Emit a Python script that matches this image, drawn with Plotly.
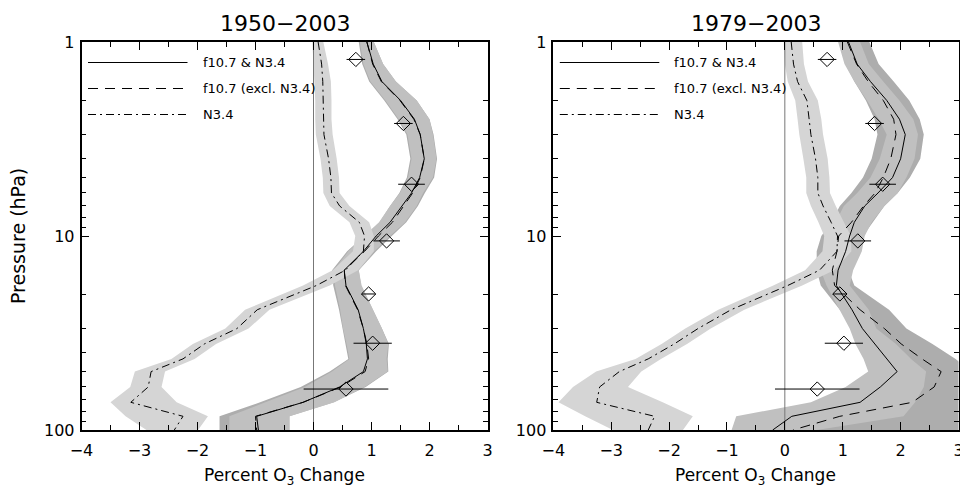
import plotly.graph_objects as go

# ---------------- data ----------------
P = [1, 1.3, 1.6, 2, 2.5, 3, 4, 5, 6, 7, 8.5, 10, 12, 15, 18, 24, 30, 36, 43, 50, 60, 72, 85, 100]

# 1950-2003
L_both    = [0.92, 1.03, 1.18, 1.50, 1.74, 1.84, 1.91, 1.83, 1.69, 1.53, 1.32, 1.08, 0.86, 0.53, 0.56, 0.77, 0.86, 0.91, 0.93, 0.86, 0.45, -0.18, -0.98, -0.95]
L_both_lo = [0.80, 0.86, 0.98, 1.24, 1.47, 1.62, 1.69, 1.63, 1.49, 1.32, 1.13, 0.88, 0.60, 0.35, 0.37, 0.46, 0.51, 0.57, 0.62, 0.32, -0.15, -0.83, -1.45, -1.45]
L_both_hi = [1.04, 1.20, 1.42, 1.78, 2.00, 2.06, 2.12, 2.06, 1.89, 1.78, 1.58, 1.32, 1.05, 0.78, 0.83, 1.03, 1.18, 1.29, 1.26, 1.28, 0.88, 0.36, -0.41, -0.41]
L_f107    = [0.92, 1.02, 1.17, 1.49, 1.73, 1.84, 1.91, 1.84, 1.71, 1.56, 1.36, 1.12, 0.88, 0.53, 0.55, 0.76, 0.86, 0.92, 0.95, 0.89, 0.47, -0.18, -1.00, -0.98]
L_f107_lo = [0.78, 0.84, 0.96, 1.22, 1.45, 1.60, 1.67, 1.61, 1.48, 1.32, 1.14, 0.88, 0.58, 0.32, 0.34, 0.44, 0.50, 0.56, 0.60, 0.28, -0.22, -0.92, -1.62, -1.62]
L_f107_hi = [1.04, 1.20, 1.42, 1.78, 2.00, 2.07, 2.13, 2.08, 1.92, 1.80, 1.60, 1.35, 1.08, 0.78, 0.82, 1.02, 1.18, 1.30, 1.28, 1.29, 0.90, 0.35, -0.42, -0.42]
L_n34     = [0.08, 0.14, 0.16, 0.17, 0.17, 0.18, 0.26, 0.30, 0.31, 0.45, 0.79, 0.88, 0.86, 0.55, 0.05, -0.97, -1.32, -1.88, -2.25, -2.80, -2.85, -3.15, -2.25, -2.40]
L_n34_lo  = [-0.02, 0.00, 0.02, 0.03, 0.03, 0.04, 0.12, 0.16, 0.17, 0.28, 0.62, 0.72, 0.68, 0.33, -0.18, -1.18, -1.52, -2.08, -2.45, -3.08, -3.16, -3.50, -3.24, -2.88]
L_n34_hi  = [0.17, 0.25, 0.30, 0.31, 0.31, 0.33, 0.40, 0.44, 0.45, 0.62, 0.96, 1.04, 1.04, 0.77, 0.28, -0.76, -1.12, -1.68, -2.05, -2.56, -2.62, -2.36, -1.82, -1.99]

# 1979-2003
R_both    = [1.10, 1.25, 1.48, 1.76, 1.98, 2.08, 2.00, 1.86, 1.61, 1.38, 1.20, 1.12, 1.05, 0.92, 0.89, 1.16, 1.34, 1.55, 1.75, 1.94, 1.65, 1.30, 0.12, -0.21]
R_both_lo = [0.92, 1.03, 1.20, 1.42, 1.62, 1.76, 1.64, 1.48, 1.25, 1.02, 0.88, 0.82, 0.72, 0.62, 0.72, 0.95, 1.12, 1.22, 1.36, 1.44, 1.05, 0.45, -0.84, -0.92]
R_both_hi = [1.30, 1.45, 1.70, 1.98, 2.22, 2.30, 2.24, 2.10, 1.95, 1.72, 1.50, 1.38, 1.33, 1.18, 1.12, 1.45, 1.58, 1.92, 2.18, 2.44, 2.40, 2.25, 2.05, 0.55]
R_f107    = [1.08, 1.24, 1.44, 1.70, 1.88, 1.92, 1.83, 1.70, 1.56, 1.36, 1.15, 0.93, 0.90, 0.82, 0.86, 1.30, 1.72, 2.01, 2.37, 2.70, 2.58, 2.20, 0.95, 0.14]
R_f107_lo = [0.95, 1.05, 1.20, 1.40, 1.55, 1.60, 1.50, 1.35, 1.15, 0.95, 0.80, 0.63, 0.55, 0.55, 0.62, 0.95, 1.30, 1.60, 1.90, 2.20, 2.05, 1.60, 0.50, 0.30]
R_f107_hi = [1.46, 1.62, 1.88, 2.15, 2.33, 2.40, 2.34, 2.16, 1.95, 1.72, 1.52, 1.35, 1.30, 1.10, 1.20, 1.80, 2.10, 2.55, 2.95, 3.20, 3.20, 3.20, 3.20, 3.20]
R_n34     = [0.11, 0.15, 0.22, 0.38, 0.42, 0.45, 0.53, 0.57, 0.57, 0.66, 0.80, 0.91, 0.90, 0.60, 0.05, -0.93, -1.50, -1.91, -2.36, -2.86, -3.20, -3.25, -2.25, -2.36]
R_n34_lo  = [-0.02, 0.00, 0.05, 0.18, 0.22, 0.25, 0.32, 0.37, 0.37, 0.45, 0.58, 0.68, 0.65, 0.35, -0.20, -1.15, -1.72, -2.13, -2.58, -3.26, -3.66, -3.91, -3.45, -2.97]
R_n34_hi  = [0.30, 0.33, 0.40, 0.57, 0.63, 0.66, 0.74, 0.77, 0.78, 0.88, 1.02, 1.14, 1.15, 0.85, 0.30, -0.70, -1.28, -1.69, -2.14, -2.48, -2.71, -2.11, -1.59, -1.76]

# independent observations (diamonds with horizontal error bars)
OBS_P   = [1.23, 2.63, 5.41, 10.6, 19.9, 35.7, 61.5]
OBS     = [0.73, 1.55, 1.69, 1.26, 0.95, 1.02, 0.56]
OBS_ERR = [0.16, 0.16, 0.23, 0.23, 0.12, 0.33, 0.73]

TITLES = ["1950\u22122003", "1979\u22122003"]
LEGEND_LABELS = ["f10.7 & N3.4", "f10.7 (excl. N3.4)", "N3.4"]
X_TICKS = [-4, -3, -2, -1, 0, 1, 2, 3]
Y_TICKS = [1, 10, 100]
Y_MINOR = [2, 3, 4, 5, 6, 7, 8, 9, 20, 30, 40, 50, 60, 70, 80, 90]

# ---------------- style ----------------
W, H = 960, 487
FONT = "DejaVu Sans"
C_DARK, C_MED, C_LIGHT = "#adadad", "#c0c0c0", "#d5d5d5"
DASH = "10px,7px"
DASHDOT = "8px,4px,2px,4px"

PLOT_TOP, PLOT_BOT = 42, 430
PANELS = [(81.5, 487.5), (553.3, 958.5)]

fig = go.Figure()

panels = [
    (L_both, L_both_lo, L_both_hi, L_f107, L_f107_lo, L_f107_hi, L_n34, L_n34_lo, L_n34_hi),
    (R_both, R_both_lo, R_both_hi, R_f107, R_f107_lo, R_f107_hi, R_n34, R_n34_lo, R_n34_hi),
]

def band(lo, hi, color, xa, ya):
    return go.Scatter(x=list(lo) + list(hi)[::-1], y=P + P[::-1], fill="toself",
                      fillcolor=color, line=dict(width=0), mode="lines",
                      hoverinfo="skip", showlegend=False, xaxis=xa, yaxis=ya)

for i, (both, blo, bhi, f, flo, fhi, n, nlo, nhi) in enumerate(panels):
    xa = "x" if i == 0 else "x2"
    ya = "y" if i == 0 else "y2"
    fig.add_trace(band(flo, fhi, C_DARK, xa, ya))
    fig.add_trace(band(blo, bhi, C_MED, xa, ya))
    fig.add_trace(band(nlo, nhi, C_LIGHT, xa, ya))
    # zero line
    fig.add_trace(go.Scatter(x=[0, 0], y=[1, 100], mode="lines",
                             line=dict(color="#777777", width=1), showlegend=False,
                             hoverinfo="skip", xaxis=xa, yaxis=ya))
    fig.add_trace(go.Scatter(x=f, y=P, mode="lines", line=dict(color="black", width=1, dash=DASH),
                             showlegend=False, xaxis=xa, yaxis=ya))
    fig.add_trace(go.Scatter(x=n, y=P, mode="lines", line=dict(color="black", width=1, dash=DASHDOT),
                             showlegend=False, xaxis=xa, yaxis=ya))
    fig.add_trace(go.Scatter(x=both, y=P, mode="lines", line=dict(color="black", width=1),
                             showlegend=False, xaxis=xa, yaxis=ya))
    fig.add_trace(go.Scatter(x=OBS, y=OBS_P, mode="markers",
                             marker=dict(symbol="diamond-open", size=11, color="black",
                                         line=dict(width=1, color="black")),
                             error_x=dict(type="data", array=OBS_ERR, width=0, thickness=1, color="black"),
                             showlegend=False, xaxis=xa, yaxis=ya))

    # legend (in-panel lines + labels)
    x0, x1 = PANELS[i]
    pw = x1 - x0
    ph = PLOT_BOT - PLOT_TOP
    dref = ("x" if i == 0 else "x2") + " domain"
    yref = ("y" if i == 0 else "y2") + " domain"
    for k, (lab, dash) in enumerate(zip(LEGEND_LABELS, ["solid", DASH, DASHDOT])):
        ypix = 62.5 + 26 * k
        yd = (PLOT_BOT - ypix) / ph
        fig.add_shape(type="line", xref=dref, yref=yref,
                      x0=6.5 / pw, x1=106 / pw, y0=yd, y1=yd,
                      line=dict(color="black", width=1, dash=dash))
        fig.add_annotation(xref=dref, yref=yref, x=119 / pw, y=yd, text=lab,
                           showarrow=False, xanchor="left", yanchor="middle",
                           font=dict(family=FONT, size=13, color="black"))
    # panel title
    fig.add_annotation(xref="paper", yref="paper", x=(x0 + x1) / 2 / W, y=1 - 24 / H,
                       text=TITLES[i], showarrow=False, xanchor="center", yanchor="middle",
                       font=dict(family=FONT, size=22, color="black"))
    # x title
    fig.add_annotation(xref="paper", yref="paper", x=(x0 + x1) / 2 / W, y=1 - 476 / H,
                       text="Percent O<sub>3</sub> Change", showarrow=False,
                       xanchor="center", yanchor="middle",
                       font=dict(family=FONT, size=17, color="black"))

fig.add_annotation(xref="paper", yref="paper", x=18 / W, y=1 - 236 / H, text="Pressure (hPa)",
                   textangle=-90, showarrow=False, xanchor="center", yanchor="middle",
                   font=dict(family=FONT, size=19, color="black"))

def xaxis(dom):
    return dict(domain=dom, range=[-4, 3], tickvals=X_TICKS, ticks="inside", ticklen=8,
                tickwidth=1, tickcolor="black", showgrid=False, zeroline=False,
                showline=True, linecolor="black", linewidth=1.5, mirror="ticks",
                tickfont=dict(family=FONT, size=16, color="black"), ticklabelstandoff=5,
                ticklabeloverflow="allow", automargin=False,
                minor=dict(dtick=0.5, ticks="inside", ticklen=5, tickcolor="black", showgrid=False))

def yaxis(anchor):
    return dict(type="log", range=[2, 0], domain=[1 - PLOT_BOT / H, 1 - PLOT_TOP / H],
                anchor=anchor, tickvals=Y_TICKS, ticktext=[str(v) for v in Y_TICKS],
                ticks="inside", ticklen=8, tickwidth=1, tickcolor="black", showgrid=False,
                zeroline=False, showline=True, linecolor="black", linewidth=1.5, mirror="ticks",
                tickfont=dict(family=FONT, size=16, color="black"), ticklabelstandoff=2,
                automargin=False,
                minor=dict(tickvals=Y_MINOR, ticks="inside", ticklen=5, tickcolor="black", showgrid=False))

fig.update_layout(
    width=W, height=H, margin=dict(l=0, r=0, t=0, b=0, pad=0, autoexpand=False),
    plot_bgcolor="white", paper_bgcolor="white", showlegend=False,
    xaxis=dict(xaxis([PANELS[0][0] / W, PANELS[0][1] / W]), anchor="y"),
    xaxis2=dict(xaxis([PANELS[1][0] / W, PANELS[1][1] / W]), anchor="y2"),
    yaxis=yaxis("x"),
    yaxis2=yaxis("x2"),
)

fig.write_html("out.html", config={"displayModeBar": False},
               post_script="document.body.style.margin='0px';")
